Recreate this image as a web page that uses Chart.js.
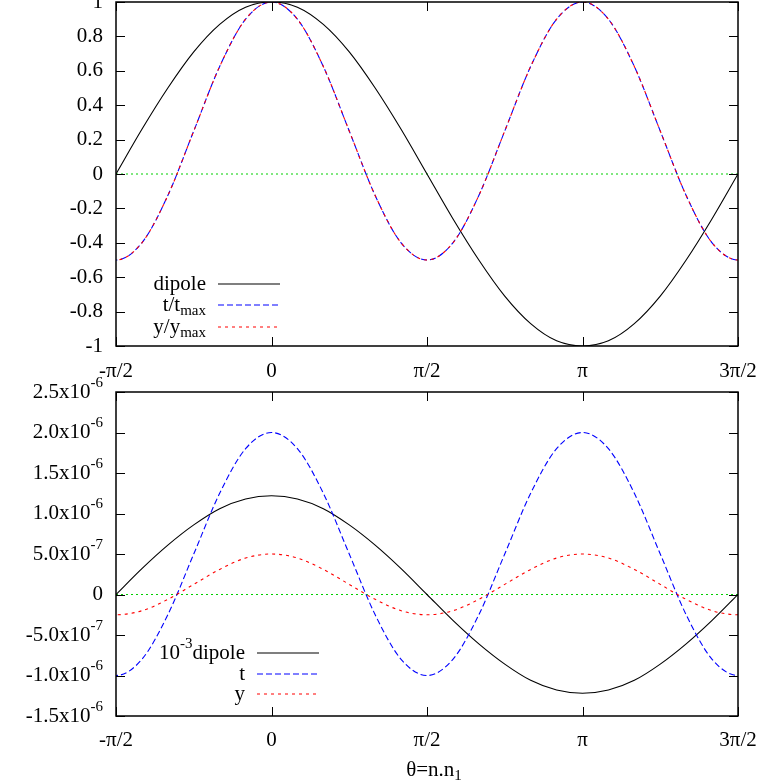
<!DOCTYPE html>
<html>
<head>
<meta charset="utf-8">
<script src="https://cdn.jsdelivr.net/npm/chart.js@4"></script>
<style>
  html, body { margin: 0; padding: 0; background: #fff; }
  #wrap { position: relative; width: 763px; height: 781px; overflow: hidden; }
  canvas { position: absolute; left: 0; }
</style>
</head>
<body>
<div id="wrap">
  <canvas id="chartTop" width="763" height="390" style="top:0"></canvas>
  <canvas id="chartBot" width="763" height="421" style="top:360px"></canvas>
</div>
<script>
// angle θ in degrees; the plot window is -π/2 .. 3π/2, the curves run a little past both edges
const thetaDeg = [-105,-90,-75,-60,-45,-30,-15,0,15,30,45,60,75,90,105,120,135,150,165,180,195,210,225,240,255,270,285];

// top panel (normalised)
const dipoleTop = [-0.26,0,0.26,0.5,0.71,0.87,0.97,1,0.97,0.87,0.71,0.5,0.26,0,-0.26,-0.5,-0.71,-0.87,-0.97,-1,-0.97,-0.87,-0.71,-0.5,-0.26,0,0.26];
const tNorm = [-0.4,-0.5,-0.4,-0.125,0.25,0.625,0.9,1,0.9,0.625,0.25,-0.125,-0.4,-0.5,-0.4,-0.125,0.25,0.625,0.9,1,0.9,0.625,0.25,-0.125,-0.4,-0.5,-0.4];
const yNorm = [-0.4,-0.5,-0.4,-0.125,0.25,0.625,0.9,1,0.9,0.625,0.25,-0.125,-0.4,-0.5,-0.4,-0.125,0.25,0.625,0.9,1,0.9,0.625,0.25,-0.125,-0.4,-0.5,-0.4];

// bottom panel (units of 1e-6)
const dipoleBot = [-0.32,0,0.32,0.61,0.86,1.06,1.18,1.22,1.18,1.06,0.86,0.61,0.32,0,-0.32,-0.61,-0.86,-1.06,-1.18,-1.22,-1.18,-1.06,-0.86,-0.61,-0.32,0,0.32];
const tBot = [-0.8,-1,-0.8,-0.25,0.5,1.25,1.8,2,1.8,1.25,0.5,-0.25,-0.8,-1,-0.8,-0.25,0.5,1.25,1.8,2,1.8,1.25,0.5,-0.25,-0.8,-1,-0.8];
const yBot = [-0.2,-0.25,-0.2,-0.06,0.125,0.31,0.45,0.5,0.45,0.31,0.125,-0.06,-0.2,-0.25,-0.2,-0.06,0.125,0.31,0.45,0.5,0.45,0.31,0.125,-0.06,-0.2,-0.25,-0.2];

const zeroX = [-90, 270];
const zeroY = [0, 0];

// ticks
const xTicks = [-90, 0, 90, 180, 270];
const xLabels = ["-\u03c0/2", "0", "\u03c0/2", "\u03c0", "3\u03c0/2"];
const topYTicks = [-1,-0.8,-0.6,-0.4,-0.2,0,0.2,0.4,0.6,0.8,1];
const topYLabels = ["-1","-0.8","-0.6","-0.4","-0.2","0","0.2","0.4","0.6","0.8","1"];
const botYTicks = [-1.5,-1,-0.5,0,0.5,1,1.5,2,2.5];
const botYBase = ["-1.5x10","-1.0x10","-5.0x10","0","5.0x10","1.0x10","1.5x10","2.0x10","2.5x10"];
const botYExp = ["-6","-6","-7","","-7","-6","-6","-6","-6"];

const FONT = "'Liberation Serif', 'Times New Roman', serif";
const BIG = 21, SMALL = 15;
const BLUE = "#0000ff", RED = "#ff0000", GREEN = "#00d000";
const DASH = { t: [6, 3], y: [3, 4], zero: [2, 3] };

const pts = (xs, ys) => xs.map((x, i) => ({ x, y: ys[i] }));

function line(label, data, color, dash, order, width = 1.1) {
  return {
    label, data, borderColor: color, borderWidth: width, borderDash: dash,
    pointRadius: 0, fill: false, cubicInterpolationMode: "monotone", order
  };
}

// pieces of text: [text, "n" | "sup" | "sub"]
function richWidth(ctx, parts) {
  let w = 0;
  parts.forEach(([t, k]) => { ctx.font = (k === "n" ? BIG : SMALL) + "px " + FONT; w += ctx.measureText(t).width; });
  return w;
}
function drawRich(ctx, parts, x, y, align) {
  const w = richWidth(ctx, parts);
  let cx = align === "right" ? x - w : align === "center" ? x - w / 2 : x;
  ctx.textAlign = "left";
  ctx.textBaseline = "middle";
  parts.forEach(([t, k]) => {
    ctx.font = (k === "n" ? BIG : SMALL) + "px " + FONT;
    const dy = k === "sup" ? -9 : k === "sub" ? 6 : 0;
    ctx.fillText(t, cx, y + dy);
    cx += ctx.measureText(t).width;
  });
}

function framePlugin(opts) {
  return {
    id: "frame",
    afterDraw(chart) {
      const { ctx, chartArea: a, scales } = chart;
      const xs = scales.x, ys = scales.y;
      ctx.save();
      ctx.fillStyle = "#000";
      ctx.strokeStyle = "#000";
      ctx.setLineDash([]);
      ctx.lineWidth = 1.5;
      ctx.strokeRect(a.left, a.top, a.right - a.left, a.bottom - a.top);
      const tl = 9;
      ctx.beginPath();
      opts.yTicks.forEach((v) => {
        const py = Math.round(ys.getPixelForValue(v)) + 0.5;
        ctx.moveTo(a.left, py); ctx.lineTo(a.left + tl, py);
        ctx.moveTo(a.right, py); ctx.lineTo(a.right - tl, py);
      });
      xTicks.forEach((v) => {
        const px = Math.round(xs.getPixelForValue(v)) + 0.5;
        ctx.moveTo(px, a.bottom); ctx.lineTo(px, a.bottom - tl);
        ctx.moveTo(px, a.top); ctx.lineTo(px, a.top + tl);
      });
      ctx.lineWidth = 1;
      ctx.stroke();

      opts.yTicks.forEach((v, i) => {
        drawRich(ctx, opts.yLabel(i), a.left - 13, ys.getPixelForValue(v), "right");
      });
      xTicks.forEach((v, i) => {
        drawRich(ctx, [[xLabels[i], "n"]], xs.getPixelForValue(v), a.bottom + opts.xLabelGap, "center");
      });
      if (opts.title) drawRich(ctx, opts.title, opts.titleX, a.bottom + opts.titleGap, "center");

      // key
      opts.legend.forEach((e) => {
        drawRich(ctx, e.text, opts.legendTextX, e.y, "right");
        ctx.save();
        ctx.beginPath();
        ctx.strokeStyle = e.color;
        ctx.lineWidth = 1.2;
        ctx.setLineDash(e.dash);
        ctx.moveTo(opts.legendLine[0], e.y);
        ctx.lineTo(opts.legendLine[1], e.y);
        ctx.stroke();
        ctx.restore();
      });
      ctx.restore();
    }
  };
}

function makeChart(id, datasets, yMin, yMax, padTop, xHeight, plugin) {
  return new Chart(document.getElementById(id), {
    type: "line",
    data: { datasets },
    options: {
      responsive: false,
      animation: false,
      devicePixelRatio: 1,
      layout: { padding: { top: padTop, right: 25, left: 0, bottom: 0 } },
      plugins: { legend: { display: false }, tooltip: { enabled: false } },
      scales: {
        x: {
          type: "linear", min: -90, max: 270,
          ticks: { display: false }, grid: { display: false }, border: { display: false },
          afterFit: (s) => { s.height = xHeight; }
        },
        y: {
          min: yMin, max: yMax,
          ticks: { display: false }, grid: { display: false }, border: { display: false },
          afterFit: (s) => { s.width = 116; }
        }
      }
    },
    plugins: [plugin]
  });
}

// top: canvas 0..390, plot 2..346
makeChart("chartTop", [
  line("y/ymax", pts(thetaDeg, yNorm), RED, DASH.y, 0),
  line("t/tmax", pts(thetaDeg, tNorm), BLUE, DASH.t, 1),
  line("dipole", pts(thetaDeg, dipoleTop), "#000", [], 2),
  line("zero", pts(zeroX, zeroY), GREEN, DASH.zero, 3)
], -1, 1, 2, 44, framePlugin({
  yTicks: topYTicks,
  yLabel: (i) => [[topYLabels[i], "n"]],
  xLabelGap: 25,
  legendTextX: 206,
  legendLine: [218, 280],
  legend: [
    { text: [["dipole", "n"]], y: 284, color: "#000", dash: [] },
    { text: [["t/t", "n"], ["max", "sub"]], y: 305, color: BLUE, dash: DASH.t },
    { text: [["y/y", "n"], ["max", "sub"]], y: 327, color: RED, dash: DASH.y }
  ]
}));

// bottom: canvas 360..781, plot 392..716
makeChart("chartBot", [
  line("y", pts(thetaDeg, yBot), RED, DASH.y, 0),
  line("t", pts(thetaDeg, tBot), BLUE, DASH.t, 1),
  line("10^-3 dipole", pts(thetaDeg, dipoleBot), "#000", [], 2),
  line("zero", pts(zeroX, zeroY), GREEN, DASH.zero, 3)
], -1.5, 2.5, 32, 65, framePlugin({
  yTicks: botYTicks,
  yLabel: (i) => botYExp[i] ? [[botYBase[i], "n"], [botYExp[i], "sup"]] : [[botYBase[i], "n"]],
  xLabelGap: 24,
  title: [["\u03b8=n.n", "n"], ["1", "sub"]],
  titleX: 434,
  titleGap: 54,
  legendTextX: 245,
  legendLine: [257, 319],
  legend: [
    { text: [["10", "n"], ["-3", "sup"], ["dipole", "n"]], y: 653 - 360, color: "#000", dash: [] },
    { text: [["t", "n"]], y: 674 - 360, color: BLUE, dash: DASH.t },
    { text: [["y", "n"]], y: 694 - 360, color: RED, dash: DASH.y }
  ]
}));
</script>
</body>
</html>
